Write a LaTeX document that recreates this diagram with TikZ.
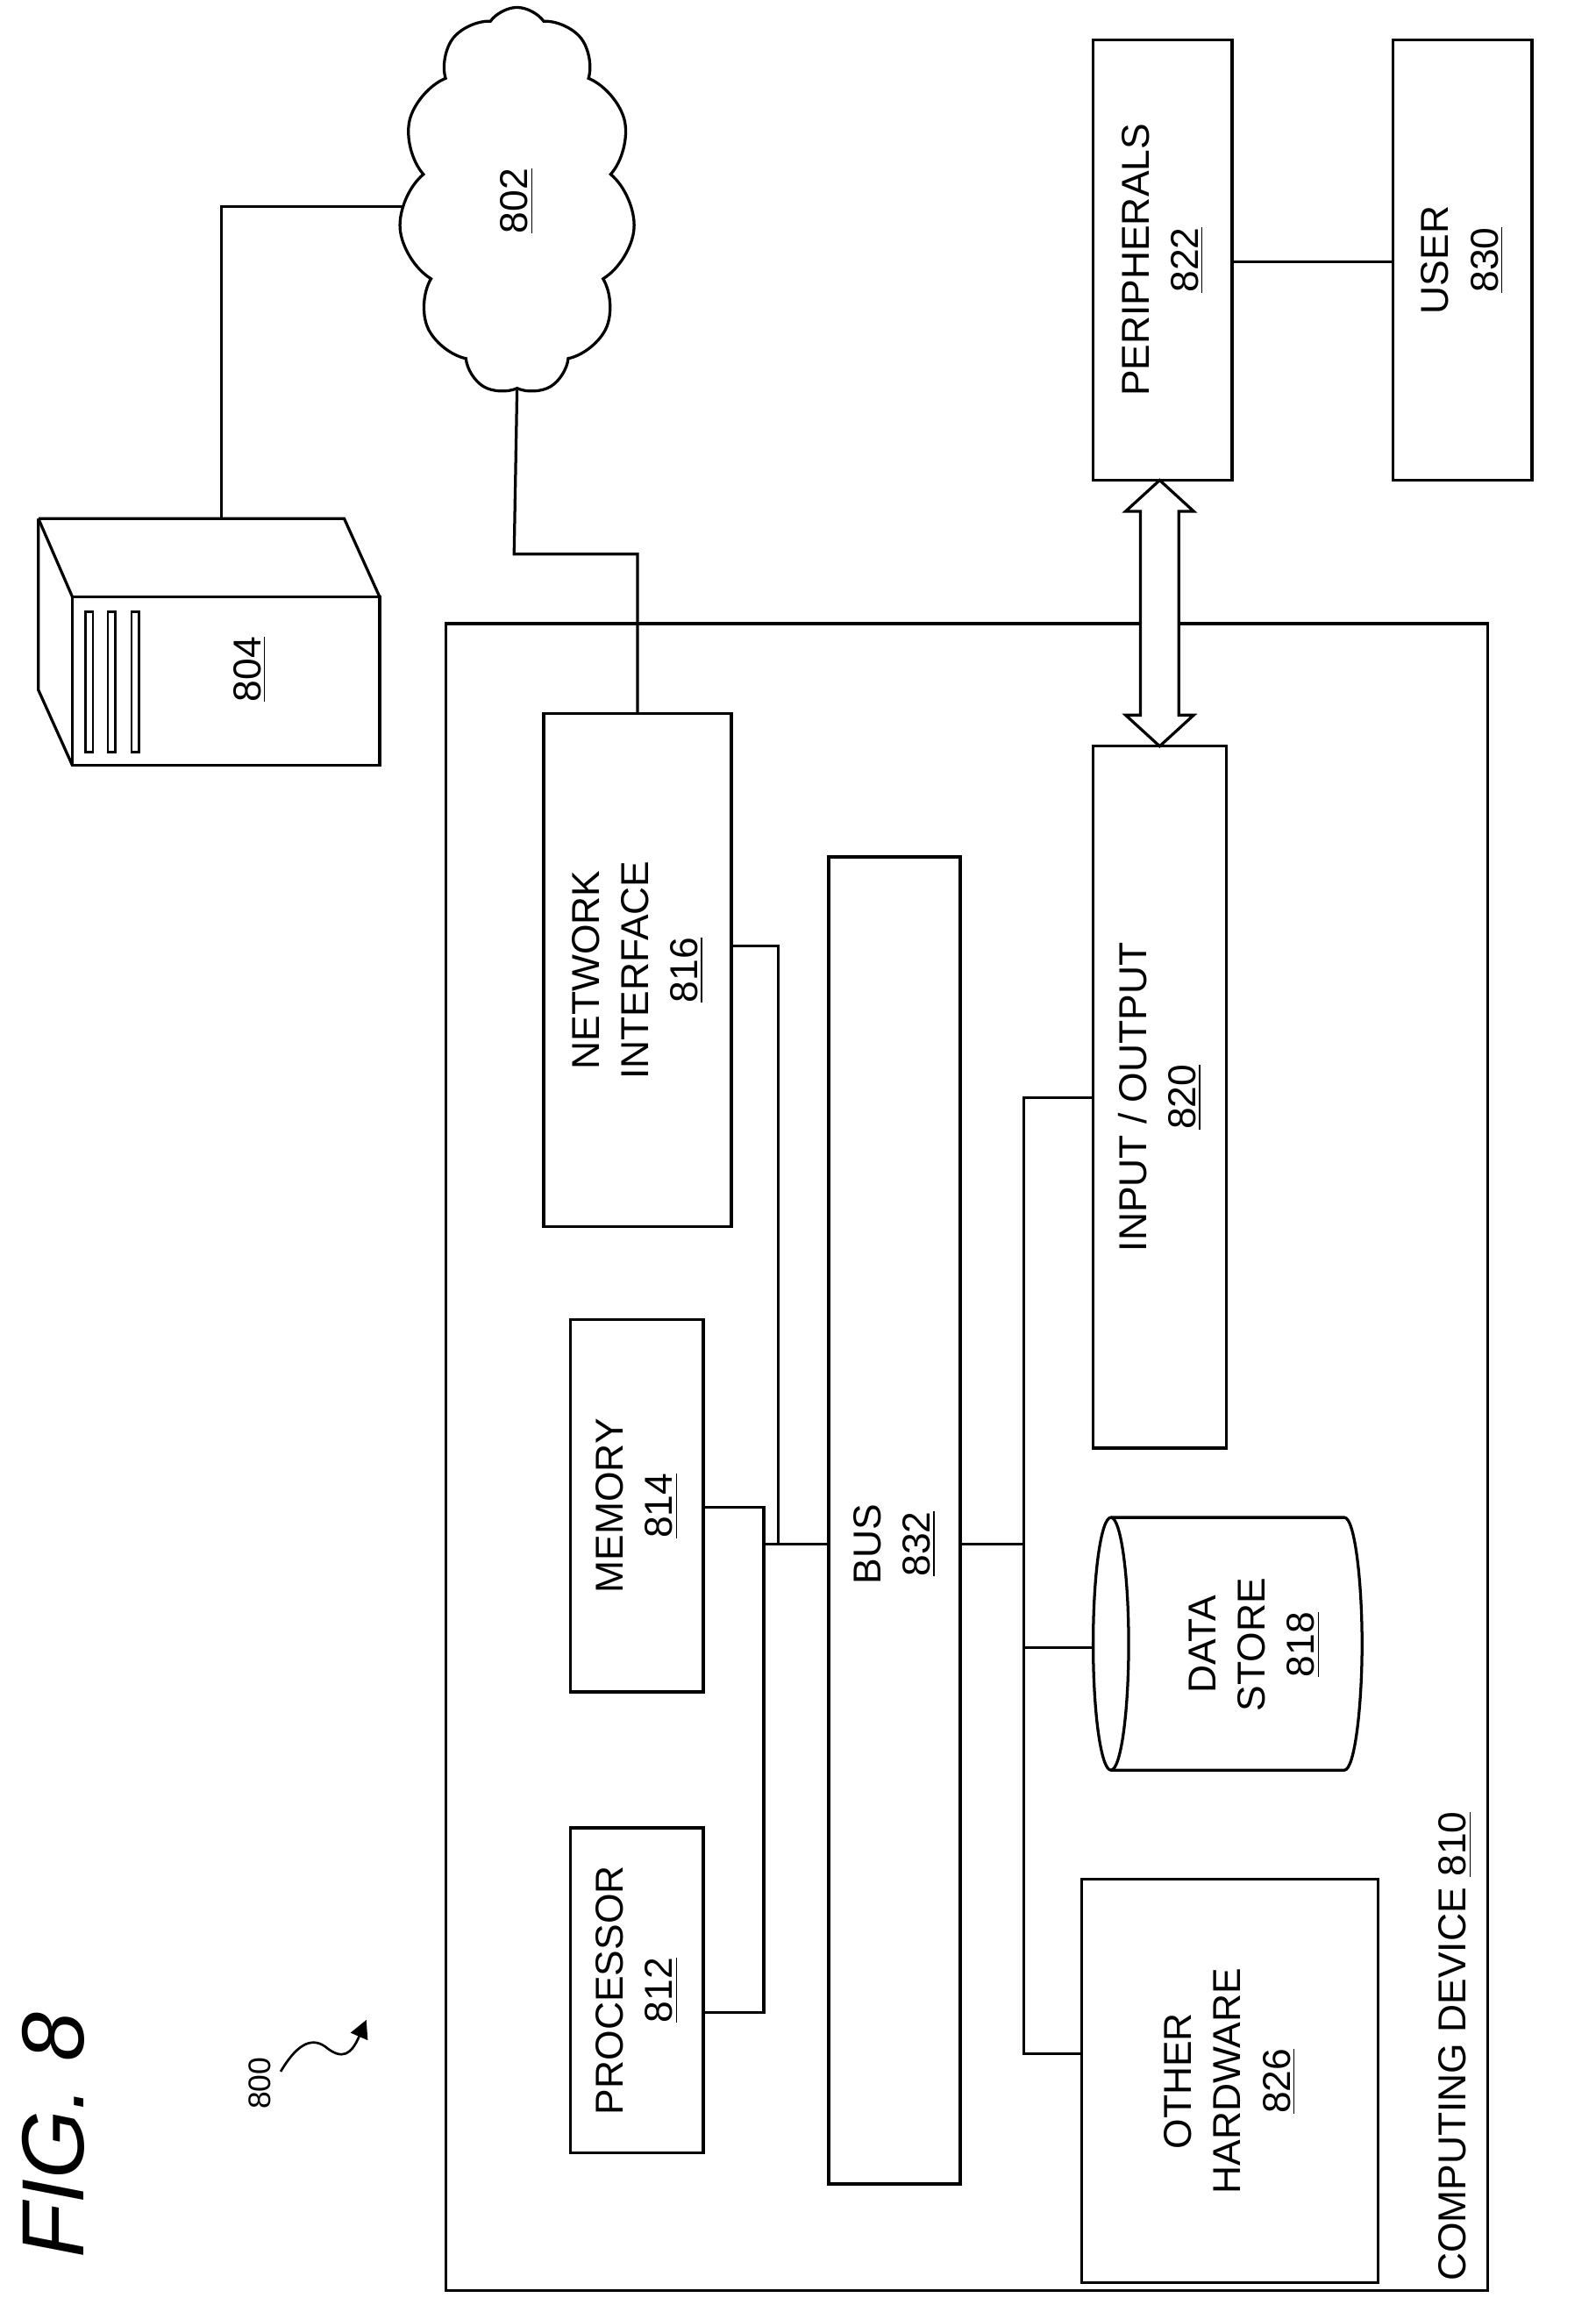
\documentclass[tikz,border=0pt]{standalone}
\usepackage{fontspec}
\setmainfont{Liberation Sans}
\usetikzlibrary{shapes.symbols,arrows.meta}
\begin{document}
\begin{tikzpicture}[x=0.02cm,y=-0.02cm,line width=1.1pt,
  box/.style={draw,rectangle,inner sep=0pt},
  lbl/.style={rotate=90,align=center,font=\fontsize{15}{19}\selectfont}]
\useasboundingbox (0,0) rectangle (1080,1560);
% computing device
\node[box,minimum width=705*0.02cm,minimum height=1128*0.02cm] (cd) at (654.5,986) {};
\node[lbl] (cdl) at (985,1385) {COMPUTING DEVICE \underline{810}};
\node[box,minimum width=127*0.02cm,minimum height=347*0.02cm] (ni) at (431.5,656.5) {};
\node[lbl] at (ni) {NETWORK\\INTERFACE\\\underline{816}};
\node[box,minimum width=90*0.02cm,minimum height=252*0.02cm] (mem) at (431,1019) {};
\node[lbl] at (mem) {MEMORY\\\underline{814}};
\node[box,minimum width=90*0.02cm,minimum height=220*0.02cm] (proc) at (431,1347) {};
\node[lbl] at (proc) {PROCESSOR\\\underline{812}};
\node[box,minimum width=89*0.02cm,minimum height=898*0.02cm] (bus) at (605.5,1029) {};
\node[lbl] at (605.5,1045) {BUS\\\underline{832}};
\node[box,minimum width=90*0.02cm,minimum height=475*0.02cm] (io) at (785,742.5) {};
\node[lbl] at (io) {INPUT / OUTPUT\\\underline{820}};
\node[box,minimum width=201*0.02cm,minimum height=273*0.02cm] (oh) at (832.5,1408.5) {};
\node[lbl] at (oh) {OTHER\\HARDWARE\\\underline{826}};
\node[box,minimum width=94*0.02cm,minimum height=298*0.02cm] (per) at (787,176) {};
\node[lbl] at (per) {PERIPHERALS\\\underline{822}};
\node[box,minimum width=94*0.02cm,minimum height=298*0.02cm] (user) at (990,176) {};
\node[lbl] at (user) {USER\\\underline{830}};
\draw (per.east |- 0,177) -- (user.west |- 0,177);
% data store cylinder
\coordinate (ds) at (752,1113);
\draw (752,1027) -- (910,1027) .. controls (917,1027) and (922,1070) .. (922,1112.5)
  .. controls (922,1155) and (917,1198) .. (910,1198) -- (752,1198);
\draw (752,1112.5) ellipse[x radius=12,y radius=85.5];
\node[lbl] at (849,1113) {DATA\\STORE\\\underline{818}};
% connections
\draw (ni.east |- 0,640) -| (527,1045);
\draw (mem.east |- 0,1020) -| (517,1045) -- (bus.west |- 0,1045);
\draw (proc.east |- 0,1362) -| (517,1045);
\draw (bus.east |- 0,1045) -- (693,1045);
\draw (io.west |- 0,743) -| (693,1390) -- (oh.west |- 0,1390);
\draw (693,1115) -- (740,1115);
% double arrow
\draw[fill=white] (785,325) -- (808,346) -- (798,346) -- (798,484) -- (808,484) -- (785,505)
  -- (762,484) -- (772,484) -- (772,346) -- (762,346) -- cycle;
% cloud
\node[draw,cloud,cloud puffs=11,cloud puff arc=110,aspect=0.6,minimum width=160*0.02cm,minimum height=262*0.02cm,inner sep=0pt] (cloud) at (350,136) {};
\node[lbl] at (350,136) {\underline{802}};
\draw (cloud.south) -- (348,375) -| (ni.north);
% server
\draw (49,404) rectangle (257,518);
\draw (26,351) -- (233,351) -- (257,404);
\draw (26,351) -- (49,404);
\draw (26,351) -- (26,467) -- (49,518);
\foreach \x in {58,73,89} \draw[line width=0.9pt] (\x,414) rectangle (\x+5,509);
\node[lbl] (srv) at (169,453) {\underline{804}};
\draw (150,351) -- (150,140) -- (cloud.west |- 0,140);
% fig label
\node[rotate=90,font=\fontsize{34}{40}\selectfont\itshape] at (36,1445) {FIG. 8};
\node[rotate=90,font=\fontsize{12}{14}\selectfont] (n800) at (176,1410) {800};
\draw[line width=0.9pt,-{Triangle[length=7pt,width=7pt]}] (190,1402) .. controls (200,1385) and (210,1378) .. (220,1385) .. controls (232,1395) and (238,1390) .. (248,1367);
\end{tikzpicture}
\end{document}
